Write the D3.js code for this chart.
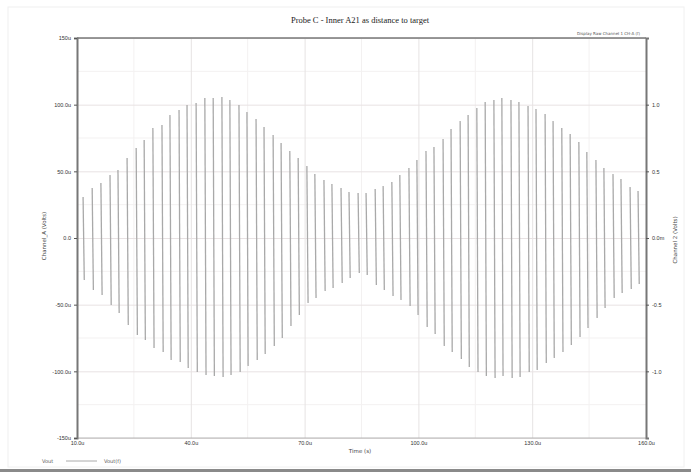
<!DOCTYPE html>
<html>
<head>
<meta charset="utf-8">
<script src="https://cdn.jsdelivr.net/npm/d3@7.9.0/dist/d3.min.js"></script>
<style>
  body { margin: 0; background: #fff; }
  svg { display: block; font-family: "DejaVu Sans", sans-serif; }
</style>
</head>
<body>
<div id="chart"></div>
<script>
// time of each cycle (µs)
const cycleTime = [
  11.6, 14.0, 16.3, 18.7, 20.8, 23.2, 25.6, 27.7, 30.0, 32.4, 34.5, 36.9, 39.0, 41.4,
  43.7, 45.9, 48.2, 50.3, 52.7, 54.8, 57.2, 59.3, 61.7, 63.8, 66.1, 68.3, 70.6, 72.7,
  75.1, 77.2, 79.6, 81.7, 84.1, 86.2, 88.6, 90.7, 93.0, 95.1, 97.5, 99.6, 102.0, 104.1,
  106.5, 108.6, 111.0, 113.1, 115.4, 117.6, 119.9, 122.0, 124.4, 126.5, 128.9, 131.0,
  133.4, 135.5, 137.8, 140.0, 142.3, 144.4, 146.8, 148.9, 151.3, 153.4, 155.8, 157.9
];
// peak of each cycle (µV)
const cyclePeak = [
  30.8, 37.5, 41.3, 47.3, 51, 60, 67.5, 73.5, 82.5, 84.8, 92.3, 96, 99.8, 101.3,
  105, 105, 105.8, 103.5, 99.8, 94.5, 89.3, 83.3, 77.3, 71.3, 65.3, 60, 54, 48,
  43.5, 40.5, 37.5, 34.5, 33.8, 33.8, 36.8, 39, 42, 47.3, 52.5, 58.5, 65.3, 68.3,
  74.3, 81.8, 87.8, 92.3, 97.5, 102, 103.5, 105, 103.5, 102, 99, 96.8,
  93, 87.8, 82.5, 78, 72, 64.5, 58.5, 52.5, 48, 44.3, 38.3, 35.3
];
// trough of each cycle (µV)
const cycleTrough = [
  -31.5, -39, -42.8, -50.3, -56.3, -65.3, -72.8, -76.5, -82.5, -85.5, -91.5, -93, -97.5, -100.5,
  -102.8, -103.5, -104.3, -102.8, -100.5, -96, -91.5, -87, -81, -75, -66, -57.8, -48.8, -45,
  -39.8, -37.5, -33.8, -30, -26.3, -27.8, -35.3, -39, -43.5, -46.5, -51, -57.8, -66.8, -72,
  -81, -85.5, -90.8, -96.8, -100.5, -103.5, -105, -103.5, -105, -104.3, -100.5, -99,
  -93.8, -90, -85.5, -80.3, -74.3, -67.5, -60, -52.5, -45, -41.3, -38.3, -34.5
];

const xTicks = [10, 40, 70, 100, 130, 160];
const xTickLabels = ['10.0u', '40.0u', '70.0u', '100.0u', '130.0u', '160.0u'];
const yTicks = [-150, -100, -50, 0, 50, 100, 150];
const yTickLabels = ['-150u', '-100.0u', '-50.0u', '0.0', '50.0u', '100.0u', '150u'];
const y2Ticks = [-1, -0.5, 0, 0.5, 1];
const y2TickLabels = ['-1.0', '-0.5', '0.0m', '0.5', '1.0'];

const width = 691, height = 472;
const margin = { top: 38, right: 45, bottom: 34, left: 77 };
const plot = {
  left: margin.left,
  right: width - margin.right,
  top: margin.top,
  bottom: height - margin.bottom
};

const svg = d3.select('#chart').append('svg')
  .attr('width', width).attr('height', height);

// faint outer frame + bottom bar
svg.append('rect')
  .attr('x', 8).attr('y', 7).attr('width', 676).attr('height', 460)
  .attr('fill', 'none').attr('stroke', '#f0f0f0');
svg.append('rect')
  .attr('x', 0).attr('y', 469).attr('width', width).attr('height', 3)
  .attr('fill', '#8a8a8a');

const xScale = d3.scaleLinear().domain([10, 160]).range([plot.left, plot.right]);
const yScale = d3.scaleLinear().domain([-150, 150]).range([plot.bottom, plot.top]);
const y2Scale = d3.scaleLinear().domain([-1.5, 1.5]).range([plot.bottom, plot.top]);

// minor grid
const minorX = d3.range(25, 160, 30);
const minorY = d3.range(-125, 150, 50);
svg.append('g').selectAll('line').data(minorX).join('line')
  .attr('x1', d => xScale(d)).attr('x2', d => xScale(d))
  .attr('y1', plot.top).attr('y2', plot.bottom)
  .attr('stroke', '#f3f1f1').attr('stroke-width', 1);
svg.append('g').selectAll('line').data(minorY).join('line')
  .attr('y1', d => yScale(d)).attr('y2', d => yScale(d))
  .attr('x1', plot.left).attr('x2', plot.right)
  .attr('stroke', '#f3f1f1').attr('stroke-width', 1);

// major grid
svg.append('g')
  .attr('transform', `translate(0,${plot.bottom})`)
  .call(d3.axisBottom(xScale).tickValues(xTicks).tickFormat('').tickSize(-(plot.bottom - plot.top)))
  .call(g => g.select('.domain').remove())
  .call(g => g.selectAll('line').attr('stroke', '#e6e3e3'));
svg.append('g')
  .attr('transform', `translate(${plot.left},0)`)
  .call(d3.axisLeft(yScale).tickValues(yTicks).tickFormat('').tickSize(-(plot.right - plot.left)))
  .call(g => g.select('.domain').remove())
  .call(g => g.selectAll('line').attr('stroke', '#e8e2e3'));

// signal: one vertical stroke per cycle
const cycles = cycleTime.map((t, i) => ({ t, hi: cyclePeak[i], lo: cycleTrough[i] }));
svg.append('g').selectAll('line').data(cycles).join('line')
  .attr('x1', d => xScale(d.t)).attr('x2', d => xScale(d.t) + 1.2)
  .attr('y1', d => yScale(d.hi)).attr('y2', d => yScale(d.lo))
  .attr('stroke', '#a9a9a9').attr('stroke-width', 1.3);

// frame
svg.append('line')
  .attr('x1', plot.left).attr('x2', plot.right).attr('y1', plot.bottom).attr('y2', plot.bottom)
  .attr('stroke', '#b5b5b5').attr('stroke-width', 1);
svg.append('line')
  .attr('x1', plot.left).attr('x2', plot.right).attr('y1', plot.top).attr('y2', plot.top)
  .attr('stroke', '#777').attr('stroke-width', 1.5);

// axes
const yAxis = svg.append('g')
  .attr('transform', `translate(${plot.left},0)`)
  .call(d3.axisLeft(yScale).tickValues(yTicks).tickSize(3)
    .tickFormat((d, i) => yTickLabels[i]));
yAxis.select('.domain').attr('stroke', '#777').attr('stroke-width', 2);
yAxis.selectAll('text').attr('font-size', 5.5).attr('fill', '#333');
yAxis.selectAll('line').attr('stroke', '#555');

const y2Axis = svg.append('g')
  .attr('transform', `translate(${plot.right},0)`)
  .call(d3.axisRight(y2Scale).tickValues(y2Ticks).tickSize(3)
    .tickFormat((d, i) => y2TickLabels[i]));
y2Axis.select('.domain').attr('stroke', '#777').attr('stroke-width', 2);
y2Axis.selectAll('text').attr('font-size', 5.5).attr('fill', '#333');
y2Axis.selectAll('line').attr('stroke', '#555');

const xAxis = svg.append('g')
  .attr('transform', `translate(0,${plot.bottom})`)
  .call(d3.axisBottom(xScale).tickValues(xTicks).tickSize(0).tickPadding(3)
    .tickFormat((d, i) => xTickLabels[i]));
xAxis.select('.domain').remove();
xAxis.selectAll('text').attr('font-size', 5.5).attr('fill', '#333');

// texts
svg.append('text')
  .attr('x', 360).attr('y', 23).attr('text-anchor', 'middle')
  .attr('font-family', '"Liberation Serif", serif').attr('font-size', 8.5)
  .attr('fill', '#222')
  .text('Probe C - Inner A21 as distance to target');

svg.append('text')
  .attr('x', 640).attr('y', 35).attr('text-anchor', 'end')
  .attr('font-size', 4).attr('fill', '#555')
  .text('Display Raw Channel 1 CH-A (f)');

svg.append('text')
  .attr('transform', 'translate(46,236) rotate(-90)')
  .attr('text-anchor', 'middle').attr('font-size', 5.5).attr('fill', '#444')
  .text('Channel_A (Volts)');

svg.append('text')
  .attr('transform', 'translate(677,240) rotate(-90)')
  .attr('text-anchor', 'middle').attr('font-size', 5.5).attr('fill', '#444')
  .text('Channel 2 (Volts)');

svg.append('text')
  .attr('x', 360).attr('y', 453).attr('text-anchor', 'middle')
  .attr('font-size', 5.5).attr('fill', '#444')
  .text('Time (s)');

// legend
const legend = svg.append('g').attr('transform', 'translate(42,461)');
legend.append('text').attr('x', 0).attr('y', 2).attr('font-size', 5).attr('fill', '#555').text('Vout');
legend.append('line').attr('x1', 24).attr('x2', 55).attr('y1', 0).attr('y2', 0)
  .attr('stroke', '#aaa').attr('stroke-width', 1);
legend.append('text').attr('x', 62).attr('y', 2).attr('font-size', 5).attr('fill', '#555').text('Vout(f)');
</script>
</body>
</html>
